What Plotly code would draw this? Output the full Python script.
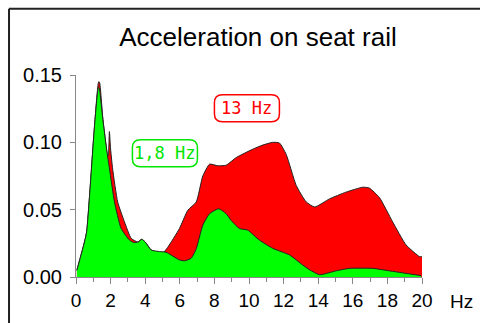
import plotly.graph_objects as go

# ---- data ----
green_hz = [0.05, 0.49, 0.62, 1.07, 1.29, 1.36, 1.55, 1.8, 1.94, 2.22, 2.61, 3.09, 3.32, 3.6, 3.8,
            4.0, 4.35, 4.83, 5.21, 5.98, 6.27, 6.66, 6.95, 7.33, 7.72, 8.25, 8.68, 8.97, 9.45, 9.93,
            10.6, 11.37, 12.34, 13.1, 13.5, 14.08, 15.04, 15.8, 17.15, 18.3, 19.95]
green_acc = [0.005, 0.026, 0.034, 0.112, 0.141, 0.139, 0.117, 0.092, 0.080, 0.056, 0.036, 0.0274,
             0.0257, 0.026, 0.028, 0.026, 0.020, 0.0189, 0.0184, 0.0127, 0.012, 0.014, 0.021,
             0.0385, 0.047, 0.0507, 0.047, 0.042, 0.036, 0.0348, 0.0274, 0.0213, 0.0164, 0.009,
             0.0054, 0.0017, 0.0046, 0.0064, 0.0064, 0.0042, 0.001]

red_hz = [0.05, 0.49, 0.62, 1.07, 1.31, 1.36, 1.55, 1.8, 1.87, 1.93, 2.0, 2.12, 2.41, 2.8, 3.19,
          3.57, 3.8, 4.0, 4.35, 5.0, 5.3, 5.98, 6.46, 6.95, 7.33, 7.72, 8.2, 8.68, 9.26, 10.2,
          10.8, 11.37, 11.76, 12.15, 12.73, 13.31, 13.8, 14.65, 15.6, 16.58, 16.96, 17.54, 18.3,
          19.08, 19.85, 20.0]
red_acc = [0.005, 0.026, 0.034, 0.112, 0.145, 0.1446, 0.118, 0.092, 0.090, 0.108, 0.095, 0.080,
           0.0557, 0.041, 0.0287, 0.026, 0.028, 0.026, 0.020, 0.0176, 0.022, 0.036, 0.0495,
           0.0557, 0.075, 0.0838, 0.0826, 0.083, 0.0887, 0.0948, 0.098, 0.100, 0.0995, 0.091,
           0.068, 0.0557, 0.052, 0.058, 0.063, 0.0667, 0.066, 0.059, 0.041, 0.0238, 0.0152, 0.015]

y_ticks = [0.0, 0.05, 0.10, 0.15]
y_tick_text = ["0.00", "0.05", "0.10", "0.15"]
x_ticks = [0, 2, 4, 6, 8, 10, 12, 14, 16, 18, 20]

labels = ["13 Hz", "1,8 Hz"]
label_hz = [9.88, 5.14]
label_acc = [0.1254, 0.0919]
label_colors = ["#ff0000", "#00e600"]

# ---- figure ----
fig = go.Figure()
fig.add_trace(go.Scatter(x=red_hz, y=red_acc, mode="lines", fill="tozeroy",
                         fillcolor="#ff0000",
                         line=dict(color="#222222", width=1, shape="spline", smoothing=0.5),
                         hoverinfo="skip", showlegend=False))
fig.add_trace(go.Scatter(x=green_hz, y=green_acc, mode="lines", fill="tozeroy",
                         fillcolor="#00ff00",
                         line=dict(color="#222222", width=1, shape="spline", smoothing=0.5),
                         hoverinfo="skip", showlegend=False))

font_family = "Liberation Sans, Arial, sans-serif"
fig.update_layout(
    width=480, height=323,
    margin=dict(l=76, r=58, t=75, b=44),
    paper_bgcolor="white", plot_bgcolor="white",
    title=dict(text="Acceleration on seat rail", x=0.5375, xanchor="center",
               y=1 - 37 / 323, yanchor="middle", yref="container",
               font=dict(family=font_family, size=26, color="black")),
    xaxis=dict(range=[0, 20], tickvals=x_ticks, showgrid=False, zeroline=False,
               showline=True, linecolor="#888888", linewidth=1,
               ticks="outside", ticklen=6, tickcolor="#888888", tickwidth=1,
               minor=dict(dtick=1, ticks="outside", ticklen=4, tickcolor="#888888", tickwidth=1),
               tickfont=dict(family=font_family, size=19, color="black")),
    yaxis=dict(range=[0, 0.15], tickvals=y_ticks, ticktext=y_tick_text, showgrid=False,
               zeroline=False, showline=True, linecolor="#888888", linewidth=1,
               ticks="outside", ticklen=5, tickcolor="#888888", tickwidth=1,
               ticklabelstandoff=4,
               tickfont=dict(family=font_family, size=20, color="black")),
)

# frame lines (left and top)
fig.add_shape(type="line", xref="paper", yref="paper", x0=-0.1936, x1=1.4, y0=1.328, y1=1.328,
              line=dict(color="#222222", width=2))
fig.add_shape(type="line", xref="paper", yref="paper", x0=-0.1936, x1=-0.1936, y0=1.328, y1=-0.3,
              line=dict(color="#222222", width=2))

# "Hz" axis unit
fig.add_annotation(text="Hz", xref="paper", yref="paper", x=1.113, y=-0.1225,
                   showarrow=False, xanchor="center", yanchor="middle",
                   font=dict(family=font_family, size=19, color="black"))

# rounded label boxes
def rounded(hw, hh, r):
    return (f"M {-hw + r},{-hh} L {hw - r},{-hh} Q {hw},{-hh} {hw},{-hh + r} "
            f"L {hw},{hh - r} Q {hw},{hh} {hw - r},{hh} L {-hw + r},{hh} "
            f"Q {-hw},{hh} {-hw},{hh - r} L {-hw},{-hh + r} Q {-hw},{-hh} {-hw + r},{-hh} Z")

for txt, fx, fy, col in zip(labels, label_hz, label_acc, label_colors):
    fig.add_shape(type="path", xref="x", yref="y", xsizemode="pixel", ysizemode="pixel",
                  xanchor=fx, yanchor=fy, path=rounded(32.5, 13.5, 8),
                  line=dict(color=col, width=1.5), fillcolor="white")
    fig.add_annotation(text=txt, x=fx, y=fy, xref="x", yref="y", showarrow=False,
                       xanchor="center", yanchor="middle",
                       font=dict(family="DejaVu Sans Mono, monospace", size=17, color=col))

fig.write_html("out.html")
